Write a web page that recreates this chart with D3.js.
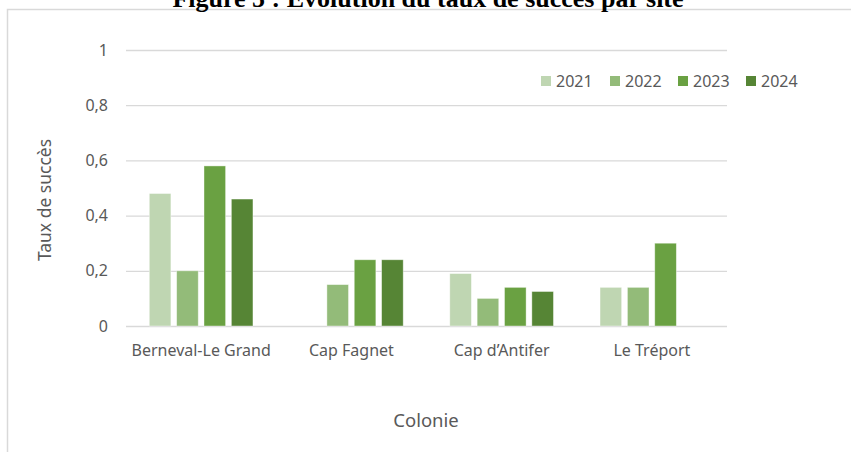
<!DOCTYPE html>
<html>
<head>
<meta charset="utf-8">
<script src="https://cdn.jsdelivr.net/npm/d3@7"></script>
<style>
  body { margin: 0; background: #fff; }
  svg { display: block; }
</style>
</head>
<body>
<div id="chart"></div>
<script>
// data
let colonies = ["Berneval-Le Grand", "Cap Fagnet", "Cap d\u2019Antifer", "Le Tréport"];
let years = ["2021", "2022", "2023", "2024"];
let v2021 = [0.48, 0, 0.19, 0.14];
let v2022 = [0.20, 0.15, 0.10, 0.14];
let v2023 = [0.58, 0.24, 0.14, 0.30];
let v2024 = [0.46, 0.24, 0.125, 0];
let yTicks = [0, 0.2, 0.4, 0.6, 0.8, 1];
let colors = ["#bfd6b2", "#93bb79", "#6aa142", "#568535"];

let series = [v2021, v2022, v2023, v2024];
let data = colonies.map(function (c, i) {
    return { colonie: c, values: years.map(function (y, j) { return { key: y, value: series[j][i] }; }) };
});

let w = 851;
let h = 452;
let font = "'Noto Sans', sans-serif";
let grey = "#595959";

let svg = d3.select("#chart")
    .append("svg")
    .attr("width", w)
    .attr("height", h);

// chart frame (only top and left edges are visible in the figure)
svg.append("rect")
    .attr("x", 7.5)
    .attr("y", 9.5)
    .attr("width", 900)
    .attr("height", 500)
    .attr("fill", "none")
    .attr("stroke", "#d9d9d9")
    .attr("stroke-width", 1.5);

// figure caption, cut off by the top edge like in the source
svg.append("text")
    .attr("x", 428)
    .attr("y", 7)
    .attr("text-anchor", "middle")
    .attr("font-family", "'Liberation Serif', serif")
    .attr("font-weight", "bold")
    .attr("font-size", 26)
    .attr("fill", "#000")
    .text("Figure 5 : Évolution du taux de succès par site");

let xScale = d3.scaleBand()
    .domain(colonies)
    .range([126, 727])
    .paddingInner(0.31)
    .paddingOuter(0.155);

let xSub = d3.scaleBand()
    .domain(years)
    .range([0, xScale.bandwidth()])
    .paddingInner(0.21);

let yScale = d3.scaleLinear()
    .domain([0, 1])
    .range([326, 50]);

let color = d3.scaleOrdinal()
    .domain(years)
    .range(colors);

// gridlines + y labels
let yAxis = d3.axisLeft(yScale)
    .tickValues(yTicks)
    .tickSize(-(727 - 126))
    .tickPadding(18)
    .tickFormat(function (d) { return d3.format("~g")(d).replace(".", ","); });

let yAxisGroup = svg.append("g")
    .attr("transform", "translate(126,0)")
    .call(yAxis);
yAxisGroup.select(".domain").remove();
yAxisGroup.selectAll("line")
    .attr("stroke", "#d9d9d9")
    .attr("stroke-width", 1.3);
yAxisGroup.selectAll("text")
    .attr("font-family", font)
    .attr("font-size", 16)
    .attr("fill", grey);

// bars
svg.append("g")
    .selectAll("g")
    .data(data)
    .enter()
    .append("g")
    .attr("transform", function (d) { return "translate(" + xScale(d.colonie) + ",0)"; })
    .selectAll("rect")
    .data(function (d) { return d.values.filter(function (v) { return v.value > 0; }); })
    .enter().append("rect")
    .attr("x", function (d) { return xSub(d.key); })
    .attr("y", function (d) { return yScale(d.value); })
    .attr("width", xSub.bandwidth())
    .attr("height", function (d) { return yScale(0) - yScale(d.value); })
    .attr("fill", function (d) { return color(d.key); })
    .attr("stroke", "#fff")
    .attr("stroke-opacity", 0.5)
    .attr("stroke-width", 0.8);

// category labels
let xAxis = d3.axisBottom(xScale)
    .tickSize(0)
    .tickPadding(19);
let xAxisGroup = svg.append("g")
    .attr("transform", "translate(0," + yScale(0) + ")")
    .call(xAxis);
xAxisGroup.select(".domain").remove();
xAxisGroup.selectAll("text")
    .attr("font-family", font)
    .attr("font-size", 16)
    .attr("fill", grey);

// axis titles
svg.append("text")
    .attr("transform", "translate(51,200) rotate(-90)")
    .attr("text-anchor", "middle")
    .attr("font-family", font)
    .attr("font-size", 17.5)
    .attr("fill", grey)
    .text("Taux de succès");

svg.append("text")
    .attr("x", 426)
    .attr("y", 427)
    .attr("text-anchor", "middle")
    .attr("font-family", font)
    .attr("font-size", 18.5)
    .attr("fill", grey)
    .text("Colonie");

// legend
let legendX = [541, 610, 678, 746];
let legend = svg.append("g")
    .selectAll("g")
    .data(years)
    .enter()
    .append("g")
    .attr("transform", function (d, i) { return "translate(" + legendX[i] + ",81)"; });
legend.append("rect")
    .attr("x", 0)
    .attr("y", -5)
    .attr("width", 10)
    .attr("height", 10)
    .attr("fill", function (d) { return color(d); });
legend.append("text")
    .attr("x", 15)
    .attr("y", 0)
    .attr("dy", "0.35em")
    .attr("font-family", font)
    .attr("font-size", 16)
    .attr("fill", grey)
    .text(function (d) { return d; });
</script>
</body>
</html>
